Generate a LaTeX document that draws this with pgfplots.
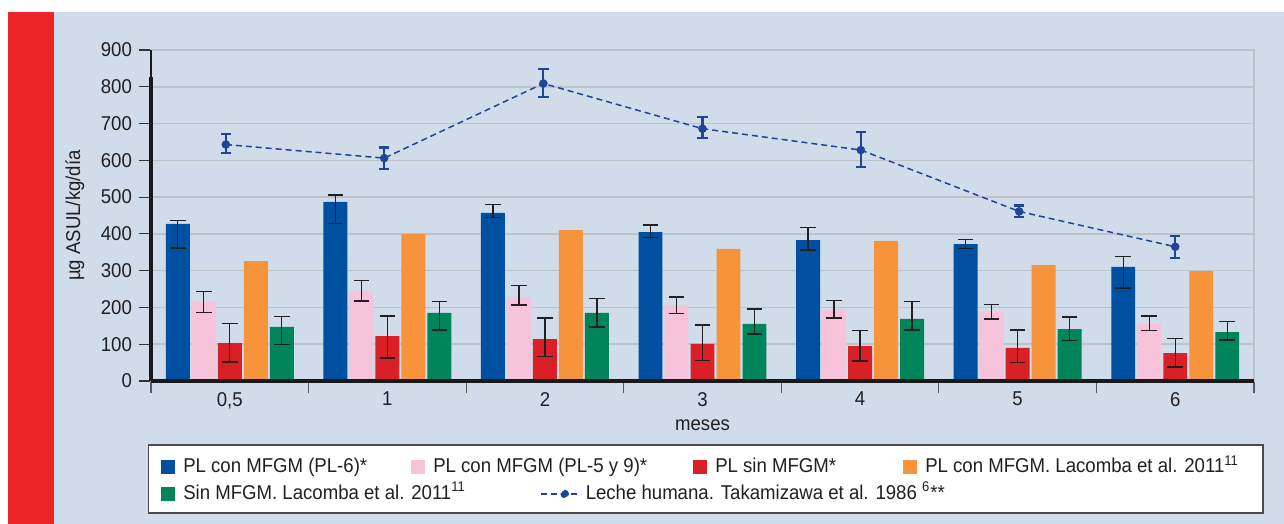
\documentclass[border=0pt]{standalone}
\usepackage{pgfplots}
\pgfplotsset{compat=1.18}
\usepackage{fontspec}
\setmainfont{Liberation Sans}[FakeStretch=0.93]
\definecolor{panel}{HTML}{D0DCE9}
\definecolor{gridgray}{HTML}{BEC3C9}
\definecolor{cblue}{HTML}{0050A2}
\definecolor{cpink}{HTML}{F7C3DA}
\definecolor{cred}{HTML}{DA1F26}
\definecolor{corange}{HTML}{F7933B}
\definecolor{cgreen}{HTML}{00855A}
\definecolor{cline}{HTML}{1F4599}
\definecolor{strip}{HTML}{EC2327}
\definecolor{txt}{HTML}{231F20}
\pgfplotsset{
  bars/.style={ybar, bar width=0.152, bar shift=0pt, draw=none, fill=#1,
    legend image code/.code={\fill[#1] (0pt,-4.5pt) rectangle (7pt,2.5pt);},
    /pgfplots/error bars/y dir=both, /pgfplots/error bars/y explicit,
    /pgfplots/error bars/error mark=|,
    /pgfplots/error bars/error bar style={draw=txt, line width=0.7pt},
    /pgfplots/error bars/error mark options={draw=txt, line width=0.7pt, mark size=3.9pt}},
  nobars/.style={ybar, bar width=0.152, bar shift=0pt, draw=none, fill=#1,
    legend image code/.code={\fill[#1] (0pt,-4.5pt) rectangle (7pt,2.5pt);}},
}
\begin{document}
\begin{tikzpicture}[font=\fontsize{10}{12}\selectfont]
\fill[white] (-75.5pt,-71.5pt) rectangle (566.5pt,190.5pt);
\fill[panel] (-48.5pt,-71.5pt) rectangle (566.5pt,184.5pt);
\fill[strip] (-71.5pt,-71.5pt) rectangle (-48.5pt,184.5pt);
\begin{axis}[
  at={(0,0)}, anchor=south west, scale only axis,
  width=551.5pt, height=165.5pt,
  xmin=-0.5, xmax=6.5, ymin=0, ymax=900, clip=false,
  xtick={0,...,6}, xticklabels={{0,5},1,2,3,4,5,6},
  minor xtick={-0.5,0.5,...,6.5},
  ytick={0,100,...,900},
  tick align=outside, xtick pos=left, ytick pos=left,
  major tick length=6pt, minor tick length=6pt,
  major x tick style={draw=none},
  minor x tick style={draw=black!65, line width=0.6pt},
  major y tick style={draw=black!80, line width=0.6pt},
  ymajorgrids, grid style={gridgray, line width=0.8pt},
  axis line style={draw=gridgray, line width=0.8pt},
  /pgf/number format/assume math mode=true,
  tick label style={font=\fontsize{10}{12}\selectfont, text=txt},
  xticklabel style={yshift=4pt},
  xlabel={meses}, ylabel={µg ASUL/kg/día},
  xlabel style={at={(axis description cs:0.5,0)}, anchor=center, yshift=-22pt, text=txt},
  ylabel style={at={(axis description cs:-0.069,0.5)}, anchor=center, text=txt},
  legend columns=4,
  legend cell align=left,
  legend style={at={(axis description cs:0,0)}, anchor=north west, xshift=-1.5pt, yshift=-31.5pt,
     draw=black!70, line width=0.75pt, fill=white, inner xsep=6pt, inner ysep=5.35pt,
     font=\fontsize{10}{12}\selectfont, text=txt,
     nodes={inner sep=0pt, text height=8.5pt, text depth=1.5pt},
     row sep=3.3pt,
     /tikz/every odd column/.append style={column sep=4.25pt}},
]
\addplot[bars=cblue] coordinates {
 (-0.33,427) += (0,10) -= (0,65)
 (0.67,487) += (0,19) -= (0,58)
 (1.67,457) += (0,23) -= (0,13)
 (2.67,405) += (0,19) -= (0,15)
 (3.67,383) += (0,34) -= (0,27)
 (4.67,372) += (0,12) -= (0,12)
 (5.67,310) += (0,28) -= (0,57)
};
\addlegendentry{\makebox[113.75pt][l]{PL con MFGM (PL-6)*}}
\addplot[bars=cpink] coordinates {
 (-0.165,215) += (0,28) -= (0,28)
 (0.835,245) += (0,29) -= (0,28)
 (1.835,228) += (0,32) -= (0,21)
 (2.835,206) += (0,22) -= (0,23)
 (3.835,195) += (0,24) -= (0,24)
 (4.835,188) += (0,20) -= (0,19)
 (5.835,155) += (0,22) -= (0,18)
};
\addlegendentry{\makebox[129.75pt][l]{PL con MFGM (PL-5 y 9)*}}
\addplot[bars=cred] coordinates {
 (0,103) += (0,53) -= (0,51)
 (1,122) += (0,55) -= (0,59)
 (2,114) += (0,57) -= (0,47)
 (3,101) += (0,51) -= (0,45)
 (4,95) += (0,42) -= (0,41)
 (5,90) += (0,49) -= (0,39)
 (6,76) += (0,39) -= (0,38)
};
\addlegendentry{\makebox[93.75pt][l]{PL sin MFGM*}}
\addplot[nobars=corange] coordinates {
 (0.165,326) (1.165,400) (2.165,410) (3.165,359) (4.165,381) (5.165,315) (6.165,299)
};
\addlegendentry{\makebox[162.75pt][l]{PL con MFGM. Lacomba et al. 2011\textsuperscript{11}}}
\addplot[bars=cgreen] coordinates {
 (0.33,147) += (0,28) -= (0,47)
 (1.33,185) += (0,31) -= (0,46)
 (2.33,185) += (0,39) -= (0,38)
 (3.33,155) += (0,41) -= (0,27)
 (4.33,169) += (0,47) -= (0,30)
 (5.33,141) += (0,33) -= (0,31)
 (6.33,133) += (0,29) -= (0,21)
};
\addlegendentry{\makebox[113.75pt][l]{Sin MFGM. Lacomba et al. 2011\textsuperscript{11}}}
\addplot[cline, line width=0.75pt, dash pattern=on 3pt off 2pt,
  mark=*, mark size=1.75pt, mark options={solid},
  legend image code/.code={\begin{scope}[overlay, xshift=65pt]
     \draw[cline, line width=0.75pt, dash pattern=on 3pt off 2pt] (0pt,-1pt) -- (20pt,-1pt);
     \fill[cline] (12pt,-1pt) circle (1.75pt);\end{scope}},
  error bars/.cd, y dir=both, y explicit, error mark=|,
  error bar style={cline, line width=1.1pt, solid},
  error mark options={cline, line width=1.1pt, mark size=2.6pt, solid}]
 coordinates {
 (-0.025,643) += (0,29) -= (0,24)
 (0.98,606) += (0,29) -= (0,29)
 (1.99,809) += (0,39) -= (0,37)
 (3,686) += (0,32) -= (0,25)
 (4.005,628) += (0,48) -= (0,46)
 (5.01,461) += (0,16) -= (0,16)
 (6,365) += (0,30) -= (0,30)
};
\addlegendentry{\makebox[129.75pt][l]{\hspace*{76.25pt}Leche humana. Takamizawa et al. 1986 \textsuperscript{6}**}}
\draw[black!90, line width=1pt] (axis cs:-0.5,0) -- (axis cs:-0.5,900);
\draw[black!90, line width=1.6pt] (axis cs:-0.5,0) -- (axis cs:-0.5,827);
\draw[black!90, line width=1.6pt] (axis cs:-0.5,0) -- (axis cs:6.5,0);
\end{axis}
\pgfresetboundingbox
\useasboundingbox (-75.5pt,-71.5pt) rectangle (566.5pt,190.5pt);
\end{tikzpicture}
\end{document}
